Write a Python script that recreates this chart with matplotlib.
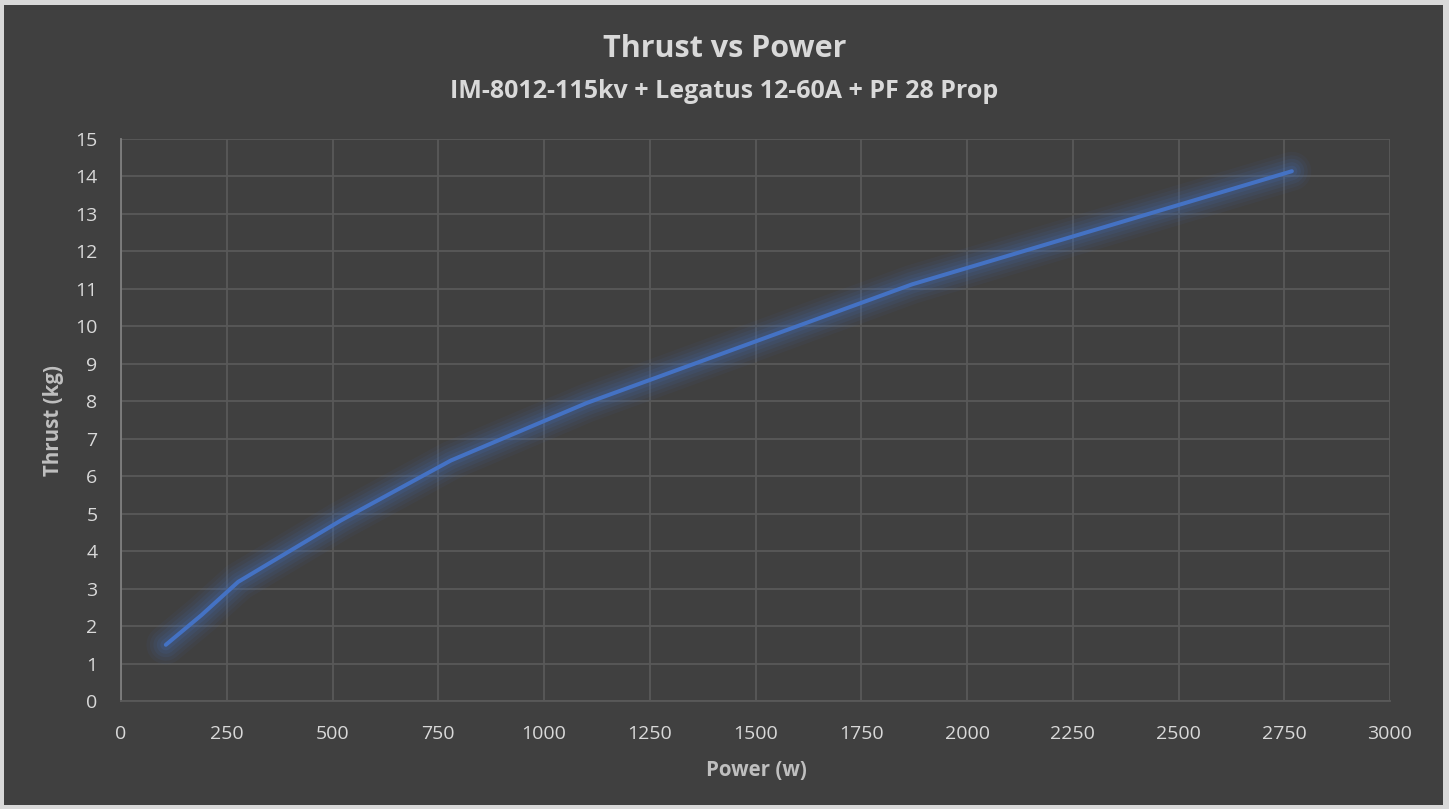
import matplotlib
matplotlib.use("Agg")
import matplotlib.pyplot as plt
from matplotlib.patches import Rectangle

power_w = [106, 190, 277, 520, 780, 1100, 1870, 2768]
thrust_kg = [1.50, 2.29, 3.18, 4.82, 6.42, 7.95, 11.12, 14.14]

x_ticks = list(range(0, 3001, 250))
y_ticks = list(range(0, 16))

title = "Thrust vs Power"
subtitle = "IM-8012-115kv + Legatus 12-60A + PF 28 Prop"
x_label = "Power (w)"
y_label = "Thrust (kg)"

bg = "#404040"
grid_col = "#595959"
tick_col = "#d9d9d9"
label_col = "#bfbfbf"
line_col = "#4472C4"

plt.rcParams["font.family"] = ["Open Sans", "DejaVu Sans"]

W, H = 1449, 809
fig = plt.figure(figsize=(W / 100, H / 100), dpi=100)
fig.patch.set_facecolor("#d9d9d9")
fig.patches.append(
    Rectangle((4 / W, 4 / H), (1443 - 4) / W, (805 - 5) / H,
              transform=fig.transFigure, facecolor=bg, edgecolor="none", zorder=-10)
)

ax = fig.add_axes([121 / W, 1 - 701 / H, (1390 - 121) / W, (701 - 139) / H])
ax.set_zorder(2)
ax.set_facecolor(bg)

# soft glow under the line
for lw, a in [(28, 0.06), (23, 0.07), (18, 0.09), (13, 0.11), (8, 0.15)]:
    ax.plot(power_w, thrust_kg, color=line_col, lw=lw, alpha=a,
            solid_capstyle="round", solid_joinstyle="round", zorder=3)
ax.plot(power_w, thrust_kg, color=line_col, lw=2.9,
        solid_capstyle="round", solid_joinstyle="round", zorder=4)

ax.set_xlim(0, 3000)
ax.set_ylim(0, 15)
ax.set_xticks(x_ticks)
ax.set_yticks(y_ticks)
ax.grid(True, color=grid_col, lw=1.3, zorder=1)
ax.set_axisbelow(True)
ax.tick_params(length=0, colors=tick_col, labelsize=14)
ax.tick_params(axis="x", pad=17)
ax.tick_params(axis="y", pad=17)
for s in ["top", "right"]:
    ax.spines[s].set_visible(False)
ax.spines["left"].set_color("#7f7f7f")
ax.spines["bottom"].set_color(grid_col)
ax.spines["left"].set_linewidth(1.3)
ax.spines["bottom"].set_linewidth(1.3)

fig.text(0.5, 1 - 49 / H, title, ha="center", va="center",
         fontsize=22, fontweight="bold", color=tick_col)
fig.text(0.5, 1 - 91 / H, subtitle, ha="center", va="center",
         fontsize=18, fontweight="bold", color=tick_col)
fig.text(756 / W, 1 - 770 / H, x_label, ha="center", va="center",
         fontsize=14.8, fontweight="bold", color=label_col)
fig.text(53 / W, 1 - 421 / H, y_label, ha="center", va="center", rotation=90,
         fontsize=14.8, fontweight="bold", color=label_col)

fig.savefig("out.png", dpi=100, facecolor=fig.get_facecolor())
